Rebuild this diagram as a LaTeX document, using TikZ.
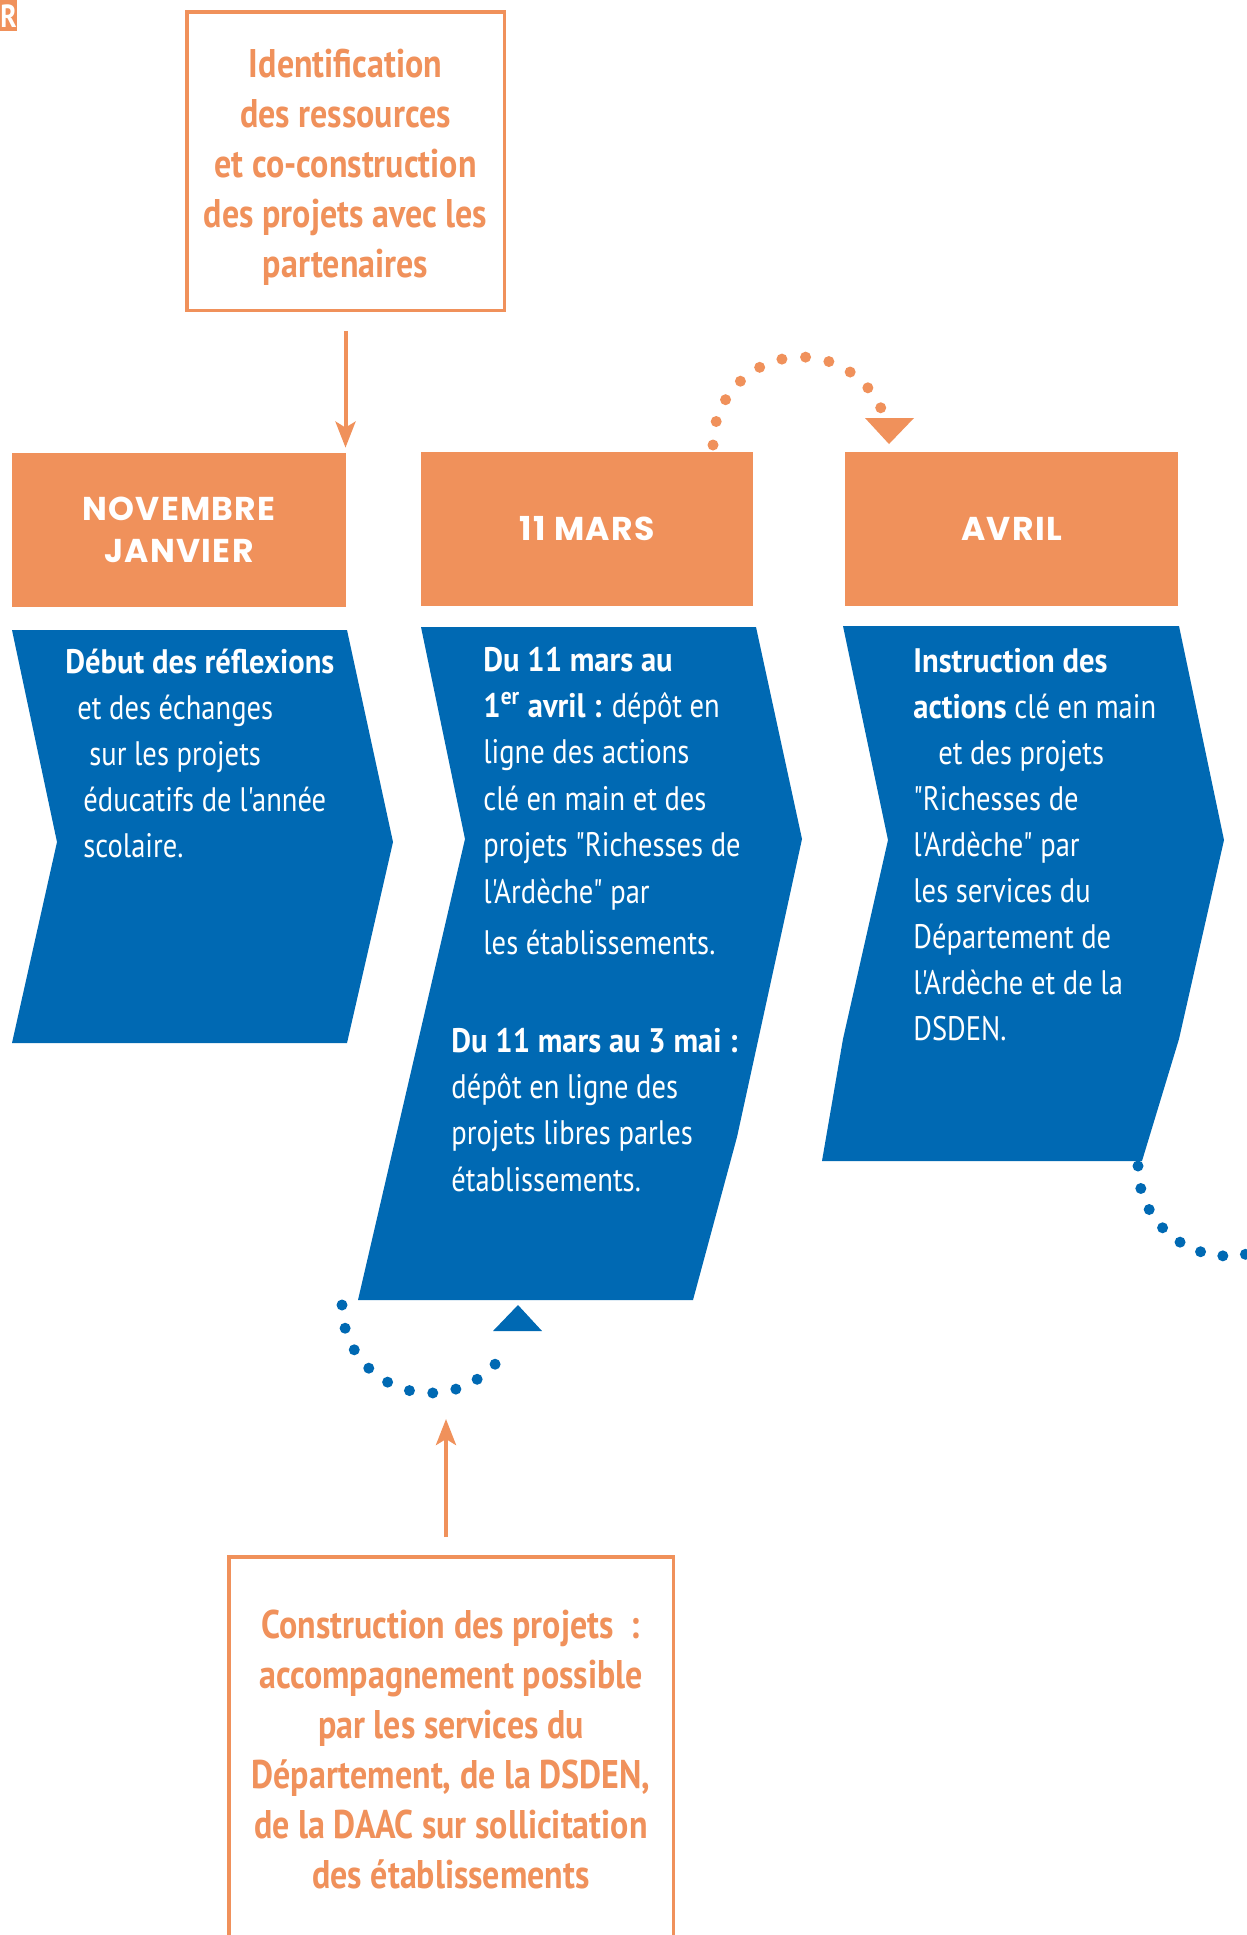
\documentclass[tikz,border=0pt]{standalone}
\usepackage{fontspec}
\setmainfont{PT Sans}
\newfontfamily\cf[FakeStretch=0.84,BoldFeatures={FakeStretch=0.9},Ligatures=TeXOff]{PT Sans}
\newfontfamily\cfb[FakeStretch=0.85,Ligatures=TeXOff]{PT Sans}
\newfontfamily\hf[LetterSpace=4]{Poppins}
\usetikzlibrary{arrows.meta}
\definecolor{orng}{HTML}{F0915B}
\definecolor{blu}{HTML}{0069B3}
\newcommand{\fb}[2]{\parbox[t]{#1}{#2}}
\begin{document}
\begin{tikzpicture}[x=0.5pt,y=-0.5pt,
  hdrbox/.style={fill=orng, draw=none, text=white, align=center, inner sep=0pt,
     font=\hf\bfseries\fontsize{16.5}{21}\selectfont},
  framebox/.style={draw=orng, line width=1.75pt, inner sep=0pt},
  boxtext/.style={text=orng, inner sep=0pt, anchor=base, font=\cfb\bfseries\fontsize{20}{25}\selectfont},
  chevtext/.style={text=white, inner sep=0pt, anchor=base west, font=\cf\fontsize{17}{23}\selectfont},
  chev/.style={fill=blu},
  orarrow/.style={draw=orng, line width=2pt, -{Stealth[length=13pt,width=10pt,inset=3pt]}},
  odots/.style={draw=orng, line width=5.5pt, line cap=round},
  bdots/.style={draw=blu, line width=5.5pt, line cap=round}]
\path[use as bounding box] (0,0) rectangle (1247,1935);
\fill[white] (0,0) rectangle (1247,1935);
\clip (0,0) rectangle (1247,1935);

% corner mark
\node (rmark) [fill=orng, text=white, inner sep=0pt, minimum width=8pt, minimum height=15.5pt,
  anchor=north west, font=\cfb\bfseries\fontsize{16}{16}\selectfont] at (0,0) {R};

% top framed box
\node (top) [framebox, minimum width=158.75pt, minimum height=149.25pt] at (345.5,161) {};
\node (toptxt) [boxtext] at (345.5,77) {\fb{300pt}{\centering Identification\\des ressources\\et co-construction\\des projets avec les\\partenaires}};

% header boxes
\node (nov) [hdrbox, minimum width=167pt, minimum height=77pt] at (179,530) {NOVEMBRE\\JANVIER};
\node (mars) [hdrbox, minimum width=166pt, minimum height=77pt] at (587,529) {11 MARS};
\node (avril) [hdrbox, minimum width=166.5pt, minimum height=77pt] at (1011.5,529) {AVRIL};

% chevrons
\fill[chev] (12,630) -- (347,630) -- (393,842) -- (347,1043) -- (12,1043) -- (57,842) -- cycle;
\fill[chev] (421,627) -- (756,627) -- (802,839) -- (737,1137) -- (693,1300) -- (358,1300) -- (465,839) -- cycle;
\fill[chev] (843,626) -- (1179,626) -- (1224,840) -- (1179,1039) -- (1142,1161) -- (822,1161) -- (843,1039) -- (888,840) -- cycle;

% chevron texts
\node (t1) [chevtext] at (65,673) {\fb{200pt}{{\bfseries Début des réflexions}\\
\hspace*{6pt}et des échanges\\
\hspace*{12pt}sur les projets\\
\hspace*{9pt}éducatifs de l'année\\
\hspace*{9pt}scolaire.}};
\node (t2a) [chevtext, font=\cf\fontsize{17}{23.2}\selectfont] at (483,671) {\fb{200pt}{{\bfseries Du 11 mars au}\\
{\bfseries 1\textsuperscript{er} avril :} dépôt en\\
ligne des actions\\
clé en main et des\\
projets "Richesses de\\
l'Ardèche" par\\[2.5pt]
les établissements.}};
\node (t2b) [chevtext, font=\cf\fontsize{17}{23.2}\selectfont] at (451,1052) {\fb{200pt}{{\bfseries Du 11 mars au 3 mai :}\\
dépôt en ligne des\\
projets libres parles\\
établissements.}};
\node (t3) [chevtext] at (913,672) {\fb{200pt}{{\bfseries Instruction des}\\
{\bfseries actions} clé en main\\
\hspace*{12.5pt}et des projets\\
"Richesses de\\
l'Ardèche" par\\
les services du\\
Département de\\
l'Ardèche et de la\\
DSDEN.}};

% bottom framed box
\node (bot) [framebox, minimum width=222.25pt, minimum height=216.6pt] at (451,1773.4) {};
\node (bottxt) [boxtext] at (451,1638) {\fb{300pt}{\centering Construction des projets\ \ :\\accompagnement possible\\par les services du\\Département, de la DSDEN,\\de la DAAC sur sollicitation\\des établissements}};

% arrows
\draw[orarrow] ([yshift=-9.4pt]top.south) -- ([yshift=2.5pt]top.south |- nov.north);
\coordinate (uptip) at (446,1419);
\draw[orarrow] ([xshift=-2.5pt,yshift=9pt]bot.north) -- (uptip);

% dotted loops
\coordinate (oa) at (713,445);
\draw[odots, dash pattern=on 0pt off 11.9pt] (oa) arc[start angle=180, end angle=335, radius=88];
\fill[orng] (865,418) -- (914,418) -- (889,444) -- cycle;

\coordinate (ba) at (342,1305);
\draw[bdots, dash pattern=on 0pt off 11.75pt] (ba) arc[start angle=180, end angle=27, radius=88];
\fill[blu] (493,1331) -- (542,1331) -- (518,1305) -- cycle;

\coordinate (bc) at (1138,1166);
\draw[bdots, dash pattern=on 0pt off 11.35pt] (bc) arc[start angle=180, end angle=0, radius=90];
\end{tikzpicture}
\end{document}
